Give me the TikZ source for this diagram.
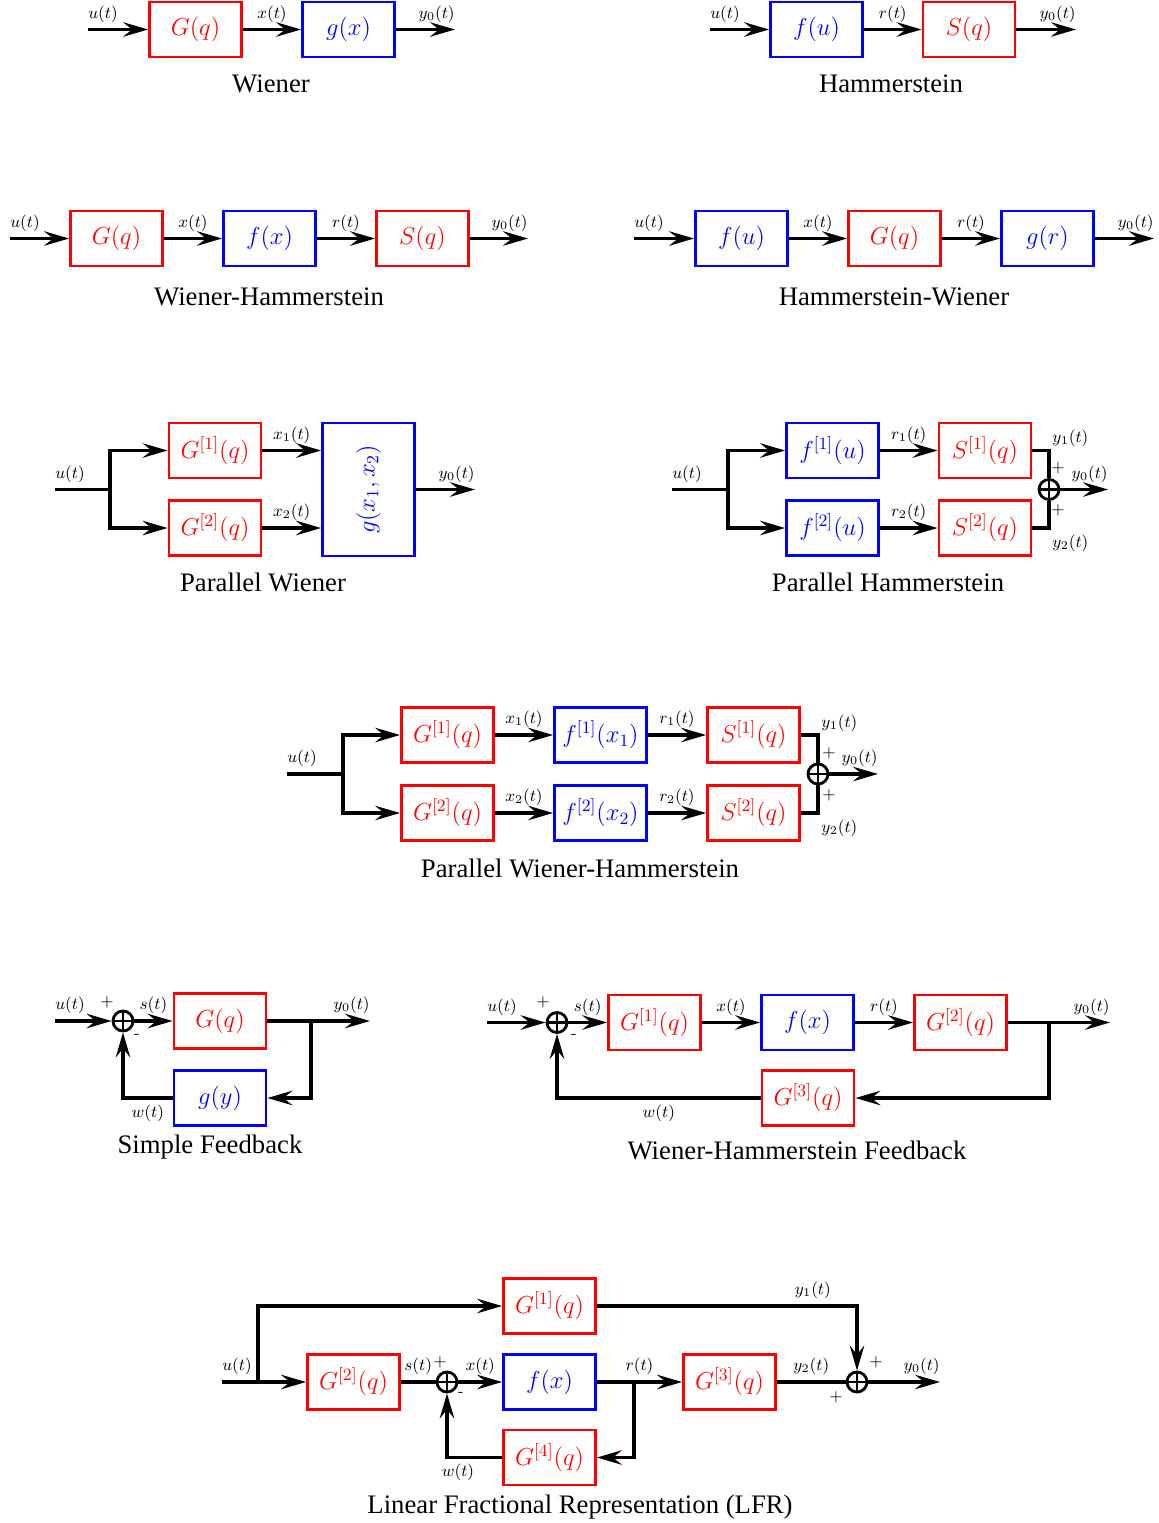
\RequirePackage{fix-cm}
\documentclass[tikz,border=0pt]{standalone}
\usepackage{fontspec}
\newfontfamily\capfont{Liberation Serif}
\usetikzlibrary{arrows.meta,positioning}

\begin{document}
\begin{tikzpicture}[x=0.2mm,y=-0.2mm]
			\tikzstyle{lin} = [
				rectangle, draw = red, text = red, line width = 1.6pt,
				inner sep = 0pt, minimum width = 18.4mm, minimum height = 11mm,
				font = \fontsize{14}{16}\selectfont
			]
			\tikzstyle{nonlin} = [lin, draw = blue, text = blue]
			\tikzstyle{sum} = [
				circle, draw, line width = 1.6pt, inner sep = 0pt, minimum size = 4mm,
				path picture = {
					\draw[line width = 1.6pt]
						(path picture bounding box.north) -- (path picture bounding box.south)
						(path picture bounding box.west) -- (path picture bounding box.east);
				}
			]
			\tikzstyle{wire} = [-, draw = black, line width = 1.8pt]
			\tikzstyle{line} = [wire, ->, >={Stealth[length=5mm,width=2.9mm,inset=1.8mm]}]
			\tikzstyle{sig} = [inner xsep = 0pt, inner ysep = 1.3mm, font = \fontsize{9.5}{11}\selectfont]
			\tikzstyle{caption} = [font = \capfont\fontsize{15.2}{18}\selectfont]

			\useasboundingbox (0,0) rectangle (1159,1523);

			% Wiener
			\coordinate (w0) at (88,29.5);
			\node[lin] (w1) at (195.5,29.5) {$G(q)$};
			\node[nonlin] (w2) at (348.5,29.5) {$g(x)$};
			\coordinate (w3) at (455,29.5);
			\draw (w0) node[sig, anchor = south west] {$u(t)$} to (w1) [line];
			\draw (w1) to node[sig, above] {$x(t)$} (w2) [line];
			\draw (w2) to node[sig, pos = 1, anchor = south east] {$y_0(t)$} (w3) [line];
			\node[caption] (wc) at (271,84) {Wiener};

			% Hammerstein
			\coordinate (h0) at (710,29.5);
			\node[nonlin] (h1) at (816.5,29.5) {$f(u)$};
			\node[lin] (h2) at (969,29.5) {$S(q)$};
			\coordinate (h3) at (1076,29.5);
			\draw (h0) node[sig, anchor = south west] {$u(t)$} to (h1) [line];
			\draw (h1) to node[sig, above] {$r(t)$} (h2) [line];
			\draw (h2) to node[sig, pos = 1, anchor = south east] {$y_0(t)$} (h3) [line];
			\node[caption] (hc) at (891,84) {Hammerstein};

			% Wiener-Hammerstein
			\coordinate (wh0) at (10,238.5);
			\node[lin] (wh1) at (116.5,238.5) {$G(q)$};
			\node[nonlin] (wh2) at (269.5,238.5) {$f(x)$};
			\node[lin] (wh3) at (422.5,238.5) {$S(q)$};
			\coordinate (wh4) at (528,238.5);
			\draw (wh0) node[sig, anchor = south west] {$u(t)$} to (wh1) [line];
			\draw (wh1) to node[sig, above] {$x(t)$} (wh2) [line];
			\draw (wh2) to node[sig, above] {$r(t)$} (wh3) [line];
			\draw (wh3) to node[sig, pos = 1, anchor = south east] {$y_0(t)$} (wh4) [line];
			\node[caption] (whc) at (269,297) {Wiener-Hammerstein};

			% Hammerstein-Wiener
			\coordinate (hw0) at (634,238.5);
			\node[nonlin] (hw1) at (741.5,238.5) {$f(u)$};
			\node[lin] (hw2) at (894.5,238.5) {$G(q)$};
			\node[nonlin] (hw3) at (1047.5,238.5) {$g(r)$};
			\coordinate (hw4) at (1154,238.5);
			\draw (hw0) node[sig, anchor = south west] {$u(t)$} to (hw1) [line];
			\draw (hw1) to node[sig, above] {$x(t)$} (hw2) [line];
			\draw (hw2) to node[sig, above] {$r(t)$} (hw3) [line];
			\draw (hw3) to node[sig, pos = 1, anchor = south east] {$y_0(t)$} (hw4) [line];
			\node[caption] (hwc) at (894,297) {Hammerstein-Wiener};

			% Parallel Wiener
			\coordinate (pw0) at (55,489.5);
			\coordinate (pwb) at (110,489.5);
			\node[lin] (pw1) at (215,450.5) {$G^{[1]}(q)$};
			\node[lin] (pw2) at (215,528) {$G^{[2]}(q)$};
			\node[nonlin, minimum height = 26.6mm] (pw3) at (368.5,489.5) {\rotatebox{90}{$g(x_1,x_2)$}};
			\coordinate (pw4) at (475,489.5);
			\draw (pw0) node[sig, anchor = south west] {$u(t)$} to (pwb) [wire];
			\draw (pwb) |- (pw1) [line];
			\draw (pwb) |- (pw2) [line];
			\draw (pw1) to node[sig, above] {$x_1(t)$} (pw1 -| pw3.west) [line];
			\draw (pw2) to node[sig, above] {$x_2(t)$} (pw2 -| pw3.west) [line];
			\draw (pw3) to node[sig, pos = 1, anchor = south east] {$y_0(t)$} (pw4) [line];
			\node[caption] (pwc) at (263,582) {Parallel Wiener};

			% Parallel Hammerstein
			\coordinate (ph0) at (672,489.5);
			\coordinate (phb) at (728,489.5);
			\node[nonlin] (ph1) at (832.5,450.5) {$f^{[1]}(u)$};
			\node[nonlin] (ph2) at (832.5,528) {$f^{[2]}(u)$};
			\node[lin] (ph3) at (985,450.5) {$S^{[1]}(q)$};
			\node[lin] (ph4) at (985,528) {$S^{[2]}(q)$};
			\node[sum] (phs) at (1049,489.5) {};
			\coordinate (ph5) at (1108,489.5);
			\draw (ph0) node[sig, anchor = south west] {$u(t)$} to (phb) [wire];
			\draw (phb) |- (ph1) [line];
			\draw (phb) |- (ph2) [line];
			\draw (ph1) to node[sig, above] {$r_1(t)$} (ph3) [line];
			\draw (ph2) to node[sig, above] {$r_2(t)$} (ph4) [line];
			\draw (ph3) -| node[sig, pos = 0.5, anchor = south west, inner ysep = 0.6mm, xshift = 0.6mm] {$y_1(t)$} (phs) [wire];
			\draw (ph4) -| node[sig, pos = 0.5, anchor = north west, xshift = 0.6mm] {$y_2(t)$} (phs) [wire];
			\draw (phs) to node[sig, pos = 1, anchor = south east] {$y_0(t)$} (ph5) [line];
			\node[sig] at ([shift = {(9,-21)}]phs) {$+$};
			\node[sig] at ([shift = {(9,21)}]phs) {$+$};
			\node[caption] (phc) at (888,582) {Parallel Hammerstein};

			% Parallel Wiener-Hammerstein
			\coordinate (pwh0) at (287,774);
			\coordinate (pwhb) at (343,774);
			\node[lin] (pwh1) at (447.5,735) {$G^{[1]}(q)$};
			\node[lin] (pwh2) at (447.5,813) {$G^{[2]}(q)$};
			\node[nonlin] (pwh3) at (600.5,735) {$f^{[1]}(x_1)$};
			\node[nonlin] (pwh4) at (600.5,813) {$f^{[2]}(x_2)$};
			\node[lin] (pwh5) at (753.5,735) {$S^{[1]}(q)$};
			\node[lin] (pwh6) at (753.5,813) {$S^{[2]}(q)$};
			\node[sum] (pwhs) at (818,774) {};
			\coordinate (pwh7) at (878,774);
			\draw (pwh0) node[sig, anchor = south west] {$u(t)$} to (pwhb) [wire];
			\draw (pwhb) |- (pwh1) [line];
			\draw (pwhb) |- (pwh2) [line];
			\draw (pwh1) to node[sig, above] {$x_1(t)$} (pwh3) [line];
			\draw (pwh2) to node[sig, above] {$x_2(t)$} (pwh4) [line];
			\draw (pwh3) to node[sig, above] {$r_1(t)$} (pwh5) [line];
			\draw (pwh4) to node[sig, above] {$r_2(t)$} (pwh6) [line];
			\draw (pwh5) -| node[sig, pos = 0.5, anchor = south west, inner ysep = 0.6mm, xshift = 0.6mm] {$y_1(t)$} (pwhs) [wire];
			\draw (pwh6) -| node[sig, pos = 0.5, anchor = north west, xshift = 0.6mm] {$y_2(t)$} (pwhs) [wire];
			\draw (pwhs) to node[sig, pos = 1, anchor = south east] {$y_0(t)$} (pwh7) [line];
			\node[sig] at ([shift = {(11,-21)}]pwhs) {$+$};
			\node[sig] at ([shift = {(11,21)}]pwhs) {$+$};
			\node[caption] (pwhc) at (580,868) {Parallel Wiener-Hammerstein};

			% Simple Feedback
			\coordinate (sf0) at (55,1021);
			\node[sum] (sfs) at (123,1021) {};
			\node[lin] (sf1) at (220,1021) {$G(q)$};
			\node[nonlin] (sf2) at (220,1098) {$g(y)$};
			\coordinate (sfb) at (311,1021);
			\coordinate (sf3) at (370,1021);
			\draw (sf0) node[sig, anchor = south west] {$u(t)$} to (sfs) [line];
			\draw (sfs) to node[sig, above] {$s(t)$} (sf1) [line];
			\draw (sf1) to node[sig, pos = 1, anchor = south east] {$y_0(t)$} (sf3) [line];
			\draw (sfb) |- (sf2) [line];
			\draw (sf2) -| node[sig, below, pos = 0.25] {$w(t)$} (sfs) [line];
			\node[sig] at ([shift = {(-16,-19)}]sfs) {$+$};
			\node[sig] at ([shift = {(14,15)}]sfs) {-};
			\node[caption] (sfc) at (210,1147) {Simple Feedback};

			% Wiener-Hammerstein Feedback
			\coordinate (whf0) at (487,1022.5);
			\node[sum] (whfs) at (557,1022.5) {};
			\node[lin] (whf1) at (654.5,1022.5) {$G^{[1]}(q)$};
			\node[nonlin] (whf2) at (807.5,1022.5) {$f(x)$};
			\node[lin] (whf3) at (960.5,1022.5) {$G^{[2]}(q)$};
			\node[lin] (whf4) at (808,1098) {$G^{[3]}(q)$};
			\coordinate (whfb) at (1049,1022.5);
			\coordinate (whf5) at (1110,1022.5);
			\draw (whf0) node[sig, anchor = south west] {$u(t)$} to (whfs) [line];
			\draw (whfs) to node[sig, above] {$s(t)$} (whf1) [line];
			\draw (whf1) to node[sig, above] {$x(t)$} (whf2) [line];
			\draw (whf2) to node[sig, above] {$r(t)$} (whf3) [line];
			\draw (whf3) to node[sig, pos = 1, anchor = south east] {$y_0(t)$} (whf5) [line];
			\draw (whfb) |- (whf4) [line];
			\draw (whf4) -| node[sig, below, pos = 0.25] {$w(t)$} (whfs) [line];
			\node[sig] at ([shift = {(-14,-20)}]whfs) {$+$};
			\node[sig] at ([shift = {(17,14)}]whfs) {-};
			\node[caption] (whfc) at (797,1150) {Wiener-Hammerstein Feedback};

			% LFR
			\coordinate (lfr0) at (222,1382);
			\coordinate (lfrb) at (258,1382);
			\node[lin] (lfr1) at (549.5,1306) {$G^{[1]}(q)$};
			\node[lin] (lfr2) at (353.5,1382) {$G^{[2]}(q)$};
			\node[sum] (lfrs1) at (447,1382) {};
			\node[nonlin] (lfr3) at (549.5,1382) {$f(x)$};
			\coordinate (lfrc) at (634,1382);
			\node[lin] (lfr4) at (729.5,1382) {$G^{[3]}(q)$};
			\node[lin] (lfr5) at (549.5,1457.5) {$G^{[4]}(q)$};
			\node[sum] (lfrs2) at (857,1382) {};
			\coordinate (lfr6) at (940,1382);
			\draw (lfr0) node[sig, anchor = south west] {$u(t)$} to (lfr2) [line];
			\draw (lfrb) |- (lfr1) [line];
			\draw (lfr2) to node[sig, above] {$s(t)$} (lfrs1) [wire];
			\draw (lfrs1) to node[sig, above] {$x(t)$} (lfr3) [line];
			\draw (lfr3) to node[sig, above] {$r(t)$} (lfr4) [line];
			\draw (lfrc) |- (lfr5) [line];
			\draw (lfr5) -| node[sig, below, pos = 0.4] {$w(t)$} (lfrs1) [line];
			\draw (lfr4) to node[sig, above] {$y_2(t)$} (lfrs2) [wire];
			\draw (lfr1) -| node[sig, above, pos = 0.415] {$y_1(t)$} (lfrs2) [line];
			\draw (lfrs2) to node[sig, pos = 1, anchor = south east] {$y_0(t)$} (lfr6) [line];
			\node[sig] at ([shift = {(-7,-20)}]lfrs1) {$+$};
			\node[sig] at ([shift = {(14,12)}]lfrs1) {-};
			\node[sig] at ([shift = {(19,-20)}]lfrs2) {$+$};
			\node[sig] at ([shift = {(-21,15)}]lfrs2) {$+$};
			\node[caption] (lfrc0) at (580,1507) {Linear Fractional Representation (LFR)};
		\end{tikzpicture}
\end{document}
